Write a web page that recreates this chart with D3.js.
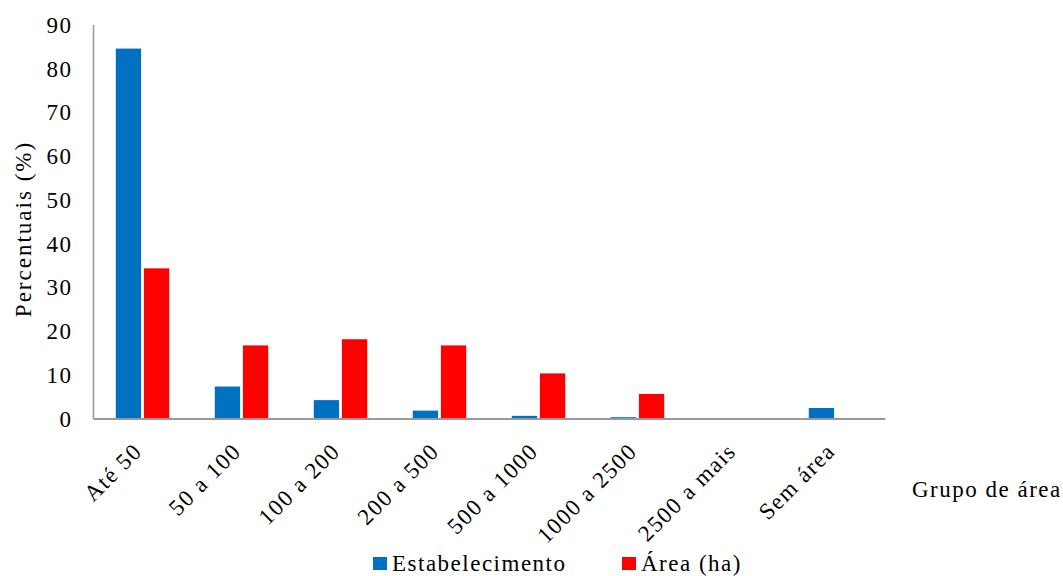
<!DOCTYPE html>
<html>
<head>
<meta charset="utf-8">
<script src="https://cdn.jsdelivr.net/npm/d3@7"></script>
<style>
  html, body { margin: 0; padding: 0; background: #fff; }
  svg { display: block; }
</style>
</head>
<body>
<svg id="chart" width="1063" height="576"></svg>
<script>
// Distribuição dos estabelecimentos e da área por grupo de área
const categories = ["Até 50", "50 a 100", "100 a 200", "200 a 500", "500 a 1000", "1000 a 2500", "2500 a mais", "Sem área"];
const estabelecimento = [84.5, 7.3, 4.2, 1.8, 0.6, 0.3, 0, 2.4];
const areaHa = [34.3, 16.7, 18.1, 16.7, 10.3, 5.6, 0, 0];
const seriesNames = ["Estabelecimento", "Área (ha)"];
const seriesColors = ["#0070C0", "#FF0000"];
const yTicks = [0, 10, 20, 30, 40, 50, 60, 70, 80, 90];

const FONT = "Liberation Serif";
const FS = 23;
const LS = 1.5;

const svg = d3.select("#chart");
const plot = { left: 93, right: 885, top: 24.5, bottom: 418.5 };

const x = d3.scaleBand().domain(categories).range([plot.left, plot.right]).paddingInner(0.46).paddingOuter(0.23);
const xs = d3.scaleBand().domain(seriesNames).range([0, x.bandwidth()]).paddingInner(0.1);
const y = d3.scaleLinear().domain([0, 90]).range([plot.bottom, plot.top]);

const rows = categories.map((c, i) => ({ cat: c, vals: [estabelecimento[i], areaHa[i]] }));

// Text helper: every label carries its own font settings
function styleText(sel) {
  return sel.attr("font-family", FONT).attr("font-size", FS).attr("fill", "#000").attr("letter-spacing", LS);
}

// Bars
const groups = svg.append("g").selectAll("g").data(rows).join("g")
  .attr("transform", d => `translate(${x(d.cat)},0)`);
groups.selectAll("rect")
  .data(d => d.vals.map((v, k) => ({ v, k })).filter(e => e.v > 0))
  .join("rect")
  .attr("x", e => xs(seriesNames[e.k]))
  .attr("width", xs.bandwidth())
  .attr("y", e => y(e.v))
  .attr("height", e => y(0) - y(e.v))
  .attr("fill", e => seriesColors[e.k]);

// Y axis
const yAxis = svg.append("g").attr("transform", `translate(${plot.left},0)`)
  .call(d3.axisLeft(y).tickValues(yTicks).tickSize(0).tickPadding(20.5));
yAxis.select(".domain").attr("stroke", "#999").attr("stroke-width", 1.5);
yAxis.selectAll(".tick text").call(styleText).attr("dy", "0.34em");

// X axis
const xAxis = svg.append("g").attr("transform", `translate(0,${plot.bottom})`)
  .call(d3.axisBottom(x).tickSize(0).tickFormat(""));
xAxis.select(".domain").attr("stroke", "#999").attr("stroke-width", 2);

// Rotated category labels
svg.append("g").selectAll("text").data(categories).join("text")
  .attr("transform", d => `translate(${x(d) + x.bandwidth() / 2 + 1},${plot.bottom + 34}) rotate(-45)`)
  .attr("text-anchor", "end")
  .call(styleText)
  .text(d => d);

// Axis titles
svg.append("text")
  .attr("transform", `translate(31,229) rotate(-90)`)
  .attr("text-anchor", "middle")
  .call(styleText)
  .attr("letter-spacing", 2)
  .text("Percentuais (%)");

svg.append("text")
  .attr("x", 912).attr("y", 497)
  .call(styleText)
  .text("Grupo de área");

// Legend
const legendX = [373, 622];
const legend = svg.append("g").selectAll("g").data(seriesNames).join("g")
  .attr("transform", (d, i) => `translate(${legendX[i]},557)`);
legend.append("rect").attr("width", 14).attr("height", 13).attr("fill", (d, i) => seriesColors[i]);
legend.append("text").attr("x", 19).attr("y", 14).call(styleText).text(d => d);
</script>
</body>
</html>
